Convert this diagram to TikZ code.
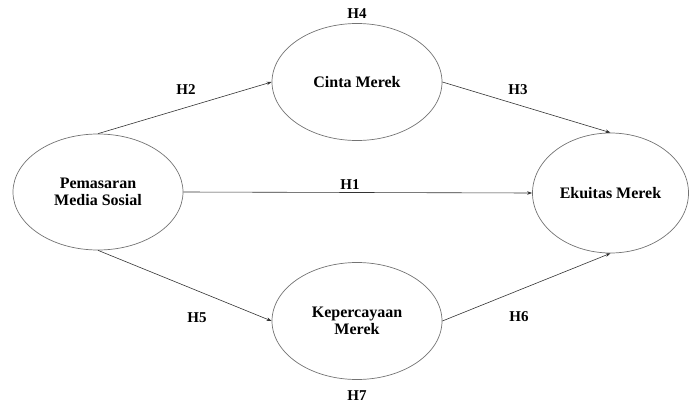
\documentclass[tikz,border=0pt]{standalone}
\usepackage{fontspec}
\setmainfont{Liberation Serif}
\usetikzlibrary{shapes.geometric,arrows.meta}
\begin{document}
\begin{tikzpicture}[x=1pt,y=-1pt,
  var/.style={ellipse,draw=black!55,line width=0.7pt,inner sep=0pt,align=center,font=\fontsize{16}{17}\selectfont\bfseries},
  conn/.style={draw=black!80,line width=0.6pt,-{Stealth[length=5pt,width=3.5pt]}},
  hlab/.style={font=\fontsize{15}{16}\selectfont\bfseries,inner sep=0pt}]
\useasboundingbox (0,0) rectangle (689,407);
\node[var,minimum width=170pt,minimum height=116pt] (pms) at (98,192) {Pemasaran\\Media Sosial};
\node[var,minimum width=170pt,minimum height=117pt] (cm) at (357,82) {Cinta Merek};
\node[var,minimum width=156pt,minimum height=120pt] (em) at (610.5,193) {Ekuitas Merek};
\node[var,minimum width=170pt,minimum height=117pt] (km) at (357,321) {Kepercayaan\\Merek};
\draw[conn] (pms.north) -- (cm.west);
\draw[conn] (pms.east) -- (em.west);
\draw[conn] (pms.south) -- (km.west);
\draw[conn] (cm.east) -- (em.north);
\draw[conn] (km.east) -- (em.south);
\node[hlab] (h4) at (357,14) {H4};
\node[hlab] (h7) at (357,396) {H7};
\node[hlab] (h2) at (186,90) {H2};
\node[hlab] (h3) at (518,90) {H3};
\node[hlab] (h1) at (350,185) {H1};
\node[hlab] (h5) at (197,318) {H5};
\node[hlab] (h6) at (519,317) {H6};
\end{tikzpicture}
\end{document}
